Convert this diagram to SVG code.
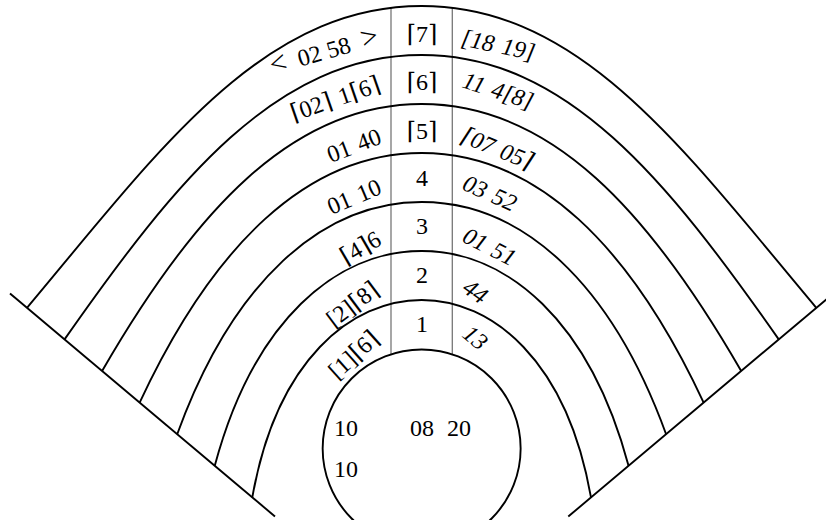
<svg xmlns="http://www.w3.org/2000/svg" width="826" height="520" viewBox="0 0 826 520">
<style>
.arc{fill:none;stroke:#000;stroke-width:1.9}
.div{fill:none;stroke:#777;stroke-width:1.3}
text{font-family:"Liberation Serif","DejaVu Serif",serif;font-size:24px;fill:#000;word-spacing:2px}
.c{text-anchor:middle}
.l{text-anchor:end}
.r{font-style:italic}
.pre{white-space:pre;word-spacing:0}
.rel{font-size:30px}
</style>
<rect width="826" height="520" fill="#fff"/>
<g id="connectors">
<line class="arc" x1="10" y1="293.5" x2="275" y2="516.5"/>
<line class="arc" x1="833.3" y1="293.5" x2="568.3" y2="516.5"/>
<line class="div" x1="391" y1="7" x2="391" y2="354"/>
<line class="div" x1="452.3" y1="7" x2="452.3" y2="354"/>
</g>
<g id="core" font-family="Liberation Serif, serif">
<circle class="arc" cx="421.65" cy="448.5" r="99"/>
<text x="334" y="436">10</text>
<text x="410" y="436">08</text>
<text x="447" y="436">20</text>
<text x="334" y="477">10</text>
</g>
<g id="band1" font-family="Liberation Serif, serif">
<path class="arc" d="M252.3,497.4 C276.61,359.53 351.65,300 421.65,300 C491.65,300 566.69,359.53 591,497.4"/>
<text class="c" x="422" y="332">1</text>
<text class="l" transform="translate(381,341) rotate(-42)">[1]⌈6⌉</text>
<text class="r" transform="translate(461,336) rotate(40)">13</text>
</g>
<g id="band2" font-family="Liberation Serif, serif">
<path class="arc" d="M214.75,465.8 C253.79,320.11 336.65,251 421.65,251 C506.65,251 589.51,320.11 628.55,465.8"/>
<text class="c" x="422" y="283">2</text>
<text class="l" transform="translate(381,293) rotate(-37)">[2]⌈8⌉</text>
<text class="r" transform="translate(461,291) rotate(35)">44</text>
</g>
<g id="band3" font-family="Liberation Serif, serif">
<path class="arc" d="M177.2,434.2 C232.49,282.28 321.65,202 421.65,202 C521.65,202 610.81,282.28 666.1,434.2"/>
<text class="c" x="422" y="234">3</text>
<text class="l" transform="translate(383,244) rotate(-30)">⌈4⌉6</text>
<text class="r" transform="translate(461,241) rotate(27)">01 51</text>
</g>
<g id="band4" font-family="Liberation Serif, serif">
<path class="arc" d="M139.65,402.6 C212.55,246.26 306.65,153 421.65,153 C536.65,153 630.75,246.26 703.65,402.6"/>
<text class="c" x="422" y="186">4</text>
<text class="l" transform="translate(383,193) rotate(-23)">01 10</text>
<text class="r" transform="translate(461,189) rotate(24)">03 52</text>
</g>
<g id="band5" font-family="Liberation Serif, serif">
<path class="arc" d="M102.1,371 C193.77,212.23 291.65,104 421.65,104 C551.65,104 649.53,212.23 741.2,371"/>
<text class="c" x="422" y="139">⌈5⌉</text>
<text class="l" transform="translate(383,143) rotate(-21)">01 40</text>
<text class="r" transform="translate(460,142) rotate(22)">⌈07 05⌉</text>
</g>
<g id="band6" font-family="Liberation Serif, serif">
<path class="arc" d="M64.55,339.4 C175.92,180.35 276.65,55 421.65,55 C566.65,55 667.38,180.35 778.75,339.4"/>
<text class="c" x="422" y="90">⌈6⌉</text>
<text class="l" transform="translate(382,91) rotate(-19)">⌈02⌉ 1⌈6⌉</text>
<text class="r" transform="translate(461,87) rotate(18)">11 4[8]</text>
</g>
<g id="band7" font-family="Liberation Serif, serif">
<path class="arc" d="M27,307.8 C158.77,150.76 261.65,6 421.65,6 C581.65,6 684.53,150.76 816.3,307.8"/>
<text class="c" x="422" y="42">⌈7⌉</text>
<text class="l pre" transform="translate(380,44) rotate(-16)"><tspan class="rel">&lt;</tspan>  02 58  <tspan class="rel">&gt;</tspan></text>
<text class="r" transform="translate(460,45) rotate(12)">[18 19]</text>
</g>
</svg>
